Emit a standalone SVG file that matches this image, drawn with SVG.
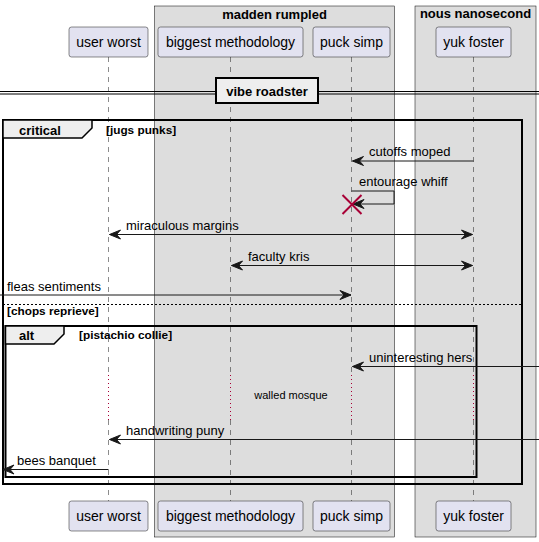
<svg xmlns="http://www.w3.org/2000/svg" width="539" height="542" viewBox="0 0 539 542">
<style>
text{font-family:"Liberation Sans",Arial,sans-serif;fill:#000}
.grp{fill:#DDDDDD;stroke:#000;stroke-width:0.5}
.gt{font-size:13px;font-weight:bold;text-anchor:middle}
.pb{fill:#E2E2F0;stroke:#181818;stroke-width:0.5}
.pt{font-size:14px;text-anchor:middle}
.ll{stroke:#181818;stroke-width:0.5;stroke-dasharray:5,5;fill:none}
.dl{stroke:#A80036;stroke-width:1;stroke-dasharray:1,3;fill:none}
.fr{fill:none;stroke:#000;stroke-width:2}
.tab{fill:#EEEEEE;stroke:#000;stroke-width:1.5}
.ft{font-size:13px;font-weight:bold}
.fc{font-size:11.8px;font-weight:bold}
.msg{stroke:#181818;stroke-width:1;fill:none}
.ml{font-size:13px}
</style>
<defs>
<marker id="arr" viewBox="0 0 13 11" refX="12" refY="5.5" markerWidth="13" markerHeight="11" markerUnits="userSpaceOnUse" orient="auto-start-reverse">
<polygon points="12,5.5 1,1 5,5.5 1,10" fill="#181818" stroke="#181818" stroke-width="1"/>
</marker>
</defs>
<g id="group-madden-rumpled">
<rect class="grp" x="154.5" y="6" width="240" height="531"/>
<text class="gt" x="274.5" y="19">madden rumpled</text>
</g>
<g id="group-nous-nanosecond">
<rect class="grp" x="415" y="6" width="121" height="531"/>
<text class="gt" x="475.5" y="18">nous nanosecond</text>
</g>
<g id="lifelines">
<path class="ll" d="M108.5,57V375M108.5,420V501"/>
<path class="ll" d="M230.5,57V375M230.5,420V501"/>
<path class="ll" d="M351.5,57V375M351.5,420V501"/>
<path class="ll" d="M473.5,57V375M473.5,420V501"/>
<path class="dl" d="M108.5,375V420M230.5,375V420M351.5,375V420M473.5,375V420"/>
</g>
<g id="user-worst">
<rect class="pb" x="69" y="27" width="79" height="30" rx="2.5"/>
<text class="pt" x="108.5" y="47">user worst</text>
<rect class="pb" x="69" y="501" width="79" height="30" rx="2.5"/>
<text class="pt" x="108.5" y="521">user worst</text>
</g>
<g id="biggest-methodology">
<rect class="pb" x="158" y="27" width="145" height="30" rx="2.5"/>
<text class="pt" x="230.5" y="47">biggest methodology</text>
<rect class="pb" x="158" y="501" width="145" height="30" rx="2.5"/>
<text class="pt" x="230.5" y="521">biggest methodology</text>
</g>
<g id="puck-simp">
<rect class="pb" x="313" y="27" width="77" height="30" rx="2.5"/>
<text class="pt" x="351.5" y="47">puck simp</text>
<rect class="pb" x="313" y="501" width="77" height="30" rx="2.5"/>
<text class="pt" x="351.5" y="521">puck simp</text>
</g>
<g id="yuk-foster">
<rect class="pb" x="436" y="27" width="75" height="30" rx="2.5"/>
<text class="pt" x="473.5" y="47">yuk foster</text>
<rect class="pb" x="436" y="501" width="75" height="30" rx="2.5"/>
<text class="pt" x="473.5" y="521">yuk foster</text>
</g>
<g id="divider-vibe-roadster">
<path d="M0,91.5H539M0,94H539" stroke="#000" stroke-width="1" fill="none"/>
<rect x="216" y="78" width="102" height="25" fill="#EEEEEE" stroke="#000" stroke-width="2"/>
<text x="267" y="96" font-size="13" font-weight="bold" text-anchor="middle">vibe roadster</text>
</g>
<g id="frame-critical">
<rect class="fr" x="3" y="120" width="519" height="364"/>
<polygon class="tab" points="3,120 92,120 92,128 82,138 3,138"/>
<text class="ft" x="19" y="135">critical</text>
<text class="fc" x="106" y="134">[jugs punks]</text>
<path d="M3,304.5H522" stroke="#000" stroke-width="1" stroke-dasharray="2,2"/>
<text class="fc" x="7" y="315">[chops reprieve]</text>
</g>
<g id="frame-alt">
<rect class="fr" x="5.5" y="326" width="471" height="151"/>
<polygon class="tab" points="5.5,326 64,326 64,334 54,344 5.5,344"/>
<text class="ft" x="19" y="340">alt</text>
<text class="fc" x="79" y="339">[pistachio collie]</text>
</g>
<g id="connectors">
<path class="msg" d="M473.5,161H352.5" marker-end="url(#arr)"/>
<text class="ml" x="369" y="156">cutoffs moped</text>
<path class="msg" d="M351.5,191H394V204H353" marker-end="url(#arr)"/>
<text class="ml" x="359" y="186">entourage whiff</text>
<path d="M342.5,195L361.5,214M361.5,195L342.5,214" stroke="#A80036" stroke-width="2" fill="none"/>
<path class="msg" d="M109.5,234.5H472.5" marker-start="url(#arr)" marker-end="url(#arr)"/>
<text class="ml" x="126" y="230">miraculous margins</text>
<path class="msg" d="M231.5,265.5H472.5" marker-start="url(#arr)" marker-end="url(#arr)"/>
<text class="ml" x="248" y="260.5">faculty kris</text>
<path class="msg" d="M0,295H351" marker-end="url(#arr)"/>
<text class="ml" x="7" y="291">fleas sentiments</text>
<path class="msg" d="M539,366.5H352.5" marker-end="url(#arr)"/>
<text class="ml" x="369" y="362">uninteresting hers</text>
<text x="291" y="399" font-size="11" text-anchor="middle">walled mosque</text>
<path class="msg" d="M539,439.5H109.5" marker-end="url(#arr)"/>
<text class="ml" x="126" y="435">handwriting puny</text>
<path class="msg" d="M108.5,469.5H3" marker-end="url(#arr)"/>
<text class="ml" x="17" y="465">bees banquet</text>
</g>
</svg>
